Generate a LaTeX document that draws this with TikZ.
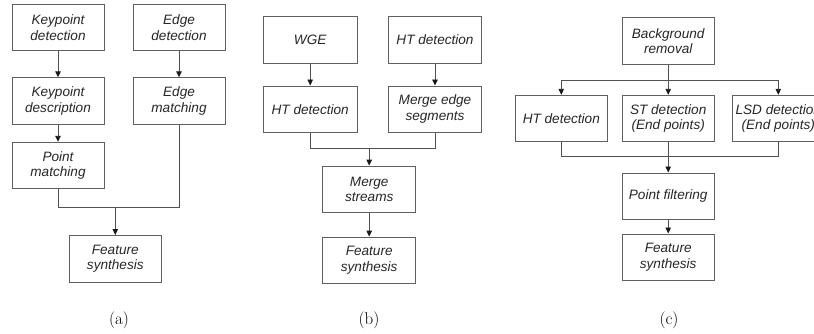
\documentclass[tikz,border=0pt]{standalone}
\usepackage{fontspec}
\newfontfamily\boxfont{Liberation Sans}
\usetikzlibrary{arrows.meta}
\definecolor{boxgray}{HTML}{606060}
\definecolor{linegray}{HTML}{505050}
\tikzset{
  stage/.style={draw=boxgray, line width=0.9pt, minimum width=92pt, minimum height=46.5pt,
    align=center, inner sep=2pt, text=black!85,
    font=\boxfont\fontsize{13.6}{15.7}\selectfont\itshape},
  flow/.style={draw=linegray, line width=0.9pt},
  arr/.style={flow, -{Triangle[length=6pt,width=5.5pt,color=black!90,fill=black!90]}},
  caption/.style={font=\fontsize{17}{19}\selectfont}
}
\begin{document}
\begin{tikzpicture}[x=1pt,y=-1pt]
\useasboundingbox (0,0) rectangle (814,333);
\clip (0,0) rectangle (814,333);
% (a)
\node[stage] (kdet) at (58,27.5) {Keypoint\\detection};
\node[stage] (edet) at (179,27.5) {Edge\\detection};
\node[stage] (kdesc) at (58,101) {Keypoint\\description};
\node[stage] (ematch) at (179,101) {Edge\\matching};
\node[stage] (pmatch) at (58,165.5) {Point\\matching};
\node[stage, minimum width=92.7pt] (fsa) at (115.3,258.7) {Feature\\synthesis};
\coordinate (ja) at (115.3,207.3);
\draw[arr] (kdet) -- (kdesc);
\draw[arr] (kdesc) -- (pmatch);
\draw[arr] (edet) -- (ematch);
\draw[flow] (pmatch.south) |- (ja) -| (ematch.south);
\draw[arr] (ja) -- (fsa);
\node[caption] (capa) at (119,320) {(a)};
% (b)
\node[stage, minimum width=93.5pt] (wge) at (310.2,40) {WGE};
\node[stage, minimum width=93.5pt] (htb) at (435,40) {HT detection};
\node[stage, minimum width=93.5pt] (htd) at (310.2,109.2) {HT detection};
\node[stage, minimum width=93.5pt] (mes) at (435,109.2) {Merge edge\\segments};
\node[stage, minimum width=93pt] (ms) at (369.2,189.3) {Merge\\streams};
\node[stage, minimum width=93pt] (fsb) at (369.2,260.3) {Feature\\synthesis};
\coordinate (jb) at (369.2,148.3);
\draw[arr] (wge) -- (htd);
\draw[arr] (htb) -- (mes);
\draw[flow] (htd.south) |- (jb) -| (mes.south);
\draw[arr] (jb) -- (ms);
\draw[arr] (ms) -- (fsb);
\node[caption] (capb) at (369,320) {(b)};
% (c)
\node[stage] (bg) at (668.2,41) {Background\\removal};
\node[stage] (htc) at (561.3,118.5) {HT detection};
\node[stage] (st) at (668.2,118.5) {ST detection\\(End points)};
\node[stage] (lsd) at (778.3,118.5) {LSD detection\\(End points)};
\node[stage] (pf) at (668.2,196.2) {Point filtering};
\node[stage] (fsc) at (668.2,257.2) {Feature\\synthesis};
\coordinate (sc) at (668.2,80);
\coordinate (jc) at (668.2,156.7);
\draw[flow] (bg) -- (sc);
\draw[arr] (sc) -| (htc.north);
\draw[arr] (sc) -| (lsd.north);
\draw[arr] (sc) -- (st);
\draw[flow] (htc.south) |- (jc) -| (lsd.south);
\draw[flow] (st) -- (jc);
\draw[arr] (jc) -- (pf);
\draw[arr] (pf) -- (fsc);
\node[caption] (capc) at (669,320) {(c)};
\end{tikzpicture}
\end{document}
